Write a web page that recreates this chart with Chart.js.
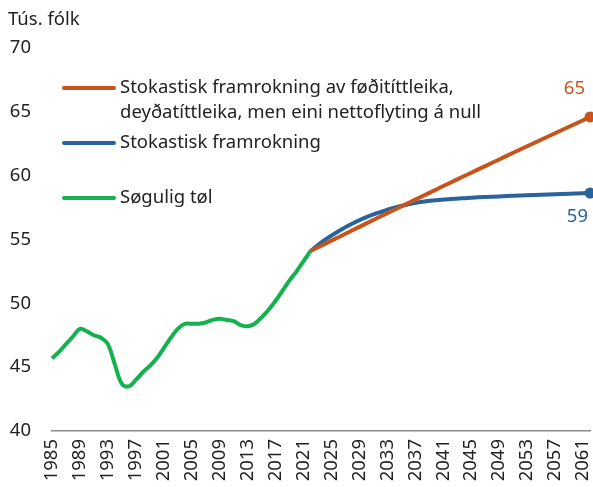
<!DOCTYPE html>
<html>
<head>
<meta charset="utf-8">
<script src="https://cdn.jsdelivr.net/npm/chart.js@4"></script>
<style>
    html, body { margin: 0; padding: 0; background: #fff; }
    #wrap { width: 593px; height: 487px; position: relative; }
</style>
</head>
<body>
<div id="wrap"><canvas id="chart"></canvas></div>
<script>
// years 1985..2062
const years = [];
for (let y = 1985; y <= 2062; y++) years.push(String(y));

const historyYears = ['1985','1986','1987','1988','1989','1990','1991','1992','1993','1994',
    '1995','1996','1997','1998','1999','2000','2001','2002','2003','2004',
    '2005','2006','2007','2008','2009','2010','2011','2012','2013','2014',
    '2015','2016','2017','2018','2019','2020','2021','2022'];
const historyValues = [45.7, 46.2, 46.8, 47.4, 48.0, 47.8, 47.5, 47.3, 46.8, 45.2,
    43.7, 43.5, 44.0, 44.6, 45.1, 45.7, 46.5, 47.3, 48.0, 48.4,
    48.4, 48.4, 48.5, 48.7, 48.8, 48.7, 48.6, 48.3, 48.2, 48.4,
    48.9, 49.5, 50.2, 51.0, 51.8, 52.5, 53.3, 54.1];

const projYears = ['2022','2024','2026','2028','2030','2032','2034','2036','2038','2040',
    '2042','2044','2046','2048','2050','2052','2054','2056','2058','2060','2062'];
const noMigrationValues = [54.1, 54.64, 55.18, 55.72, 56.26, 56.8, 57.33, 57.86, 58.39, 58.92,
    59.45, 59.97, 60.49, 61.01, 61.53, 62.05, 62.56, 63.07, 63.58, 64.09, 64.6];
const stochasticValues = [54.1, 54.95, 55.65, 56.25, 56.75, 57.15, 57.5, 57.75, 57.95, 58.08,
    58.17, 58.24, 58.3, 58.35, 58.4, 58.44, 58.48, 58.52, 58.56, 58.6, 58.64];

const yTicks = [40, 45, 50, 55, 60, 65, 70];
const xTickEvery = 4;

const labelNoMigration = ['Stokastisk framrokning av føðitíttleika,', 'deyðatíttleika, men eini nettoflyting á null'];
const labelStochastic = ['Stokastisk framrokning'];
const labelHistory = ['Søgulig tøl'];
const unitLabel = 'Tús. fólk';

const ORANGE = '#c6541c';
const BLUE = '#2a629b';
const GREEN = '#14b14e';
const TEXT = '#222222';
const FONT = '"Noto Sans", "Open Sans", sans-serif';
const FONT_SIZE = 18.5;

function toSeries(keys, vals) {
    return years.map(y => {
        const i = keys.indexOf(y);
        return i >= 0 ? vals[i] : null;
    });
}

function lastPointRadius(ctx) {
    return ctx.dataIndex === years.length - 1 ? 5.5 : 0;
}

// legend drawn by hand because the rows are spaced unevenly
const legendRows = [
    { ds: 0, y: 88 },
    { ds: 1, y: 143 },
    { ds: 2, y: 198 }
];

const customText = {
    id: 'customText',
    afterDraw(chart) {
        const c = chart.ctx;
        c.save();
        c.font = FONT_SIZE + 'px ' + FONT;
        c.fillStyle = TEXT;
        c.textBaseline = 'middle';
        c.textAlign = 'left';
        c.fillText(unitLabel, 8, 20);

        legendRows.forEach(row => {
            const ds = chart.data.datasets[row.ds];
            c.strokeStyle = ds.borderColor;
            c.lineWidth = 4;
            c.lineCap = 'round';
            c.beginPath();
            c.moveTo(64, row.y);
            c.lineTo(114, row.y);
            c.stroke();
            c.fillStyle = TEXT;
            ds.label.forEach((line, i) => c.fillText(line, 120, row.y + i * 25));
        });

        // end values
        const y = chart.scales.y;
        const last = years.length - 1;
        const vO = chart.data.datasets[0].data[last];
        const vB = chart.data.datasets[1].data[last];
        c.textAlign = 'right';
        c.fillStyle = ORANGE;
        c.fillText(String(Math.round(vO)), 585, y.getPixelForValue(vO) - 28);
        c.fillStyle = BLUE;
        c.fillText(String(Math.round(vB)), 588, y.getPixelForValue(vB) + 24);
        c.restore();
    }
};

new Chart(document.getElementById('chart'), {
    type: 'line',
    data: {
        labels: years,
        datasets: [
            {
                label: labelNoMigration,
                data: toSeries(projYears, noMigrationValues),
                borderColor: ORANGE,
                backgroundColor: ORANGE,
                borderWidth: 4,
                pointRadius: lastPointRadius,
                pointBorderWidth: 0,
                spanGaps: true,
                clip: false,
                tension: 0.4
            },
            {
                label: labelStochastic,
                data: toSeries(projYears, stochasticValues),
                borderColor: BLUE,
                backgroundColor: BLUE,
                borderWidth: 4,
                pointRadius: lastPointRadius,
                pointBorderWidth: 0,
                spanGaps: true,
                clip: false,
                tension: 0.4
            },
            {
                label: labelHistory,
                data: toSeries(historyYears, historyValues),
                borderColor: GREEN,
                backgroundColor: GREEN,
                borderWidth: 4,
                pointRadius: 0,
                clip: false,
                tension: 0.4
            }
        ]
    },
    options: {
        responsive: true,
        maintainAspectRatio: false,
        animation: false,
        layout: { autoPadding: false, padding: { top: 48, right: 3, left: 0, bottom: 0 } },
        plugins: {
            legend: { display: false },
            tooltip: { enabled: false }
        },
        scales: {
            x: {
                offset: false,
                grid: { display: false, drawTicks: false },
                border: { display: true, color: '#8a8a8a', width: 1.5 },
                ticks: {
                    autoSkip: false,
                    maxRotation: 90,
                    minRotation: 90,
                    padding: 8,
                    color: TEXT,
                    font: { family: FONT, size: FONT_SIZE },
                    callback: function(val, i) {
                        return i % xTickEvery === 0 ? years[i] : '';
                    }
                },
                afterFit(scale) {
                    scale.height = 56;
                    scale.paddingLeft = 0;
                    scale.paddingRight = 0;
                }
            },
            y: {
                min: 40,
                max: 70,
                grid: { display: false, drawTicks: false },
                border: { display: false },
                afterBuildTicks(scale) {
                    scale.ticks = yTicks.map(v => ({ value: v }));
                },
                ticks: {
                    padding: 21,
                    color: TEXT,
                    font: { family: FONT, size: FONT_SIZE }
                },
                afterFit(scale) { scale.width = 52; }
            }
        }
    },
    plugins: [customText]
});
</script>
</body>
</html>
